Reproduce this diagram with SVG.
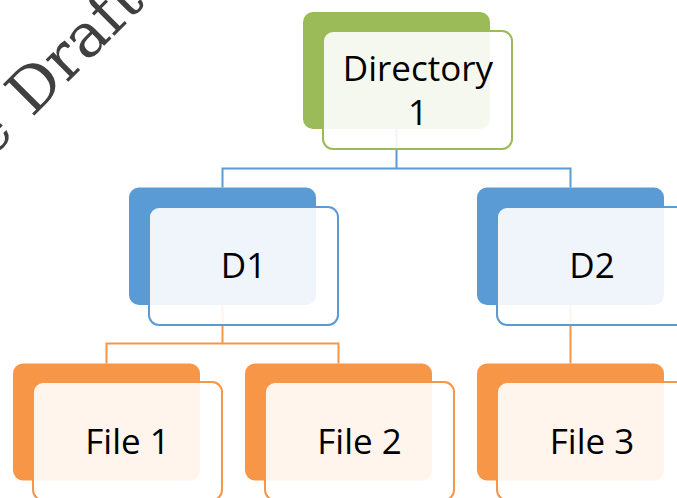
<svg xmlns="http://www.w3.org/2000/svg" width="677" height="498" viewBox="0 0 677 498">
<style>
.wm{font-family:"DejaVu Serif",serif;font-size:61px;fill:#404040}
.lbl{font-family:"Open Sans","Liberation Sans",sans-serif;font-size:35px;fill:#000;text-anchor:middle}
.back{stroke:none}
.front{fill:#fff;fill-opacity:0.9;stroke-width:2}
.g .back{fill:#9BBB59}.g .front{stroke:#9BBB59}
.b .back{fill:#5B9BD5}.b .front{stroke:#5B9BD5}
.o .back{fill:#F79646}.o .front{stroke:#F79646}
.con{fill:none;stroke-width:2}
</style>
<rect width="677" height="498" fill="#fff"/>
<text class="wm" transform="translate(34,116) rotate(-45)"><tspan x="-62" y="0">e</tspan><tspan x="-3" y="0">Draft</tspan></text>
<g id="connectors">
<path class="con" stroke="#5B9BD5" d="M396.5,129 V168.5 M222.5,187.5 V168.5 H570.5 V187.5"/>
<path class="con" stroke="#F79646" d="M222.5,305 V343.5 M106.5,363.5 V343.5 H338.5 V363.5"/>
<path class="con" stroke="#F79646" d="M570.5,305 V363.5"/>
</g>
<g id="directory1" class="g">
<rect class="back" x="303" y="12" width="187" height="117" rx="10"/>
<rect class="front" x="323" y="31" width="189" height="118" rx="10"/>
<text class="lbl" x="418" y="81">Directory</text>
<text class="lbl" x="418" y="125">1</text>
</g>
<g id="d1" class="b">
<rect class="back" x="129" y="187.5" width="187" height="117.5" rx="10"/>
<rect class="front" x="149" y="207" width="189" height="118" rx="10"/>
<text class="lbl" x="243.5" y="278">D1</text>
</g>
<g id="d2" class="b">
<rect class="back" x="477" y="187.5" width="187" height="117.5" rx="10"/>
<rect class="front" x="497" y="207" width="189" height="118" rx="10"/>
<text class="lbl" x="592" y="278">D2</text>
</g>
<g id="file1" class="o">
<rect class="back" x="13" y="363.5" width="187" height="117" rx="10"/>
<rect class="front" x="33" y="382" width="189" height="118" rx="10"/>
<text class="lbl" x="127.5" y="454">File 1</text>
</g>
<g id="file2" class="o">
<rect class="back" x="245" y="363.5" width="187" height="117" rx="10"/>
<rect class="front" x="265" y="382" width="189" height="118" rx="10"/>
<text class="lbl" x="359.5" y="454">File 2</text>
</g>
<g id="file3" class="o">
<rect class="back" x="477" y="363.5" width="187" height="117" rx="10"/>
<rect class="front" x="497" y="382" width="189" height="118" rx="10"/>
<text class="lbl" x="592" y="454">File 3</text>
</g>
</svg>
